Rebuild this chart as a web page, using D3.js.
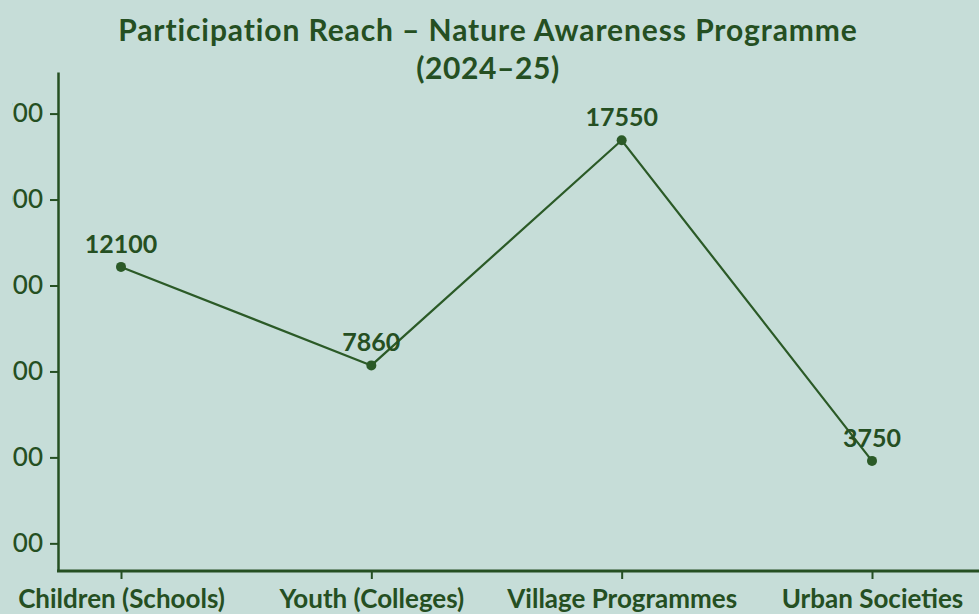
<!DOCTYPE html>
<html>
<head>
<meta charset="utf-8">
<script src="https://d3js.org/d3.v7.min.js"></script>
<style>
  body { margin: 0; background: #c6ddd8; }
  svg { display: block; }
</style>
</head>
<body>
<div id="chart"></div>
<script>
  // data
  var categories = ["Children (Schools)", "Youth (Colleges)", "Village Programmes", "Urban Societies"];
  var participants = [12100, 7860, 17550, 3750];
  var yTickValues = [200, 3900, 7600, 11300, 15000, 18700];

  var data = categories.map(function(c, i) { return {cat: c, value: participants[i]}; });

  var W = 979, H = 614;
  var margin = {top: 72, left: 58, bottom: 43};
  var ink = "#254f22";
  var font = "Lato, 'Open Sans', sans-serif";

  var svg = d3.select("#chart")
    .append("svg")
      .attr("width", W)
      .attr("height", H)
      .style("background", "#c6ddd8");

  // title
  svg.append("text")
    .attr("x", 488).attr("y", 41)
    .attr("text-anchor", "middle")
    .style("font-family", font).style("font-weight", 700)
    .style("font-size", "30px").style("letter-spacing", "0.9px").style("fill", ink)
    .text("Participation Reach – Nature Awareness Programme");
  svg.append("text")
    .attr("x", 488).attr("y", 79)
    .attr("text-anchor", "middle")
    .style("font-family", font).style("font-weight", 700)
    .style("font-size", "30px").style("letter-spacing", "0.6px").style("fill", ink)
    .text("(2024–25)");

  // scales
  var x = d3.scalePoint()
    .domain(categories)
    .range([121, 872]);

  var y = d3.scaleLinear()
    .domain([-990, 20490])
    .range([H - margin.bottom, margin.top]);

  // the tick labels are cut at the left edge, like in the original
  svg.append("clipPath").attr("id", "yclip")
    .append("rect").attr("x", 12 - margin.left).attr("y", 0).attr("width", W).attr("height", H);

  // Y axis
  var yAxis = d3.axisLeft(y)
    .tickValues(yTickValues)
    .tickSize(8)
    .tickSizeOuter(0)
    .tickPadding(7)
    .tickFormat(d3.format("d"));

  var yg = svg.append("g")
    .attr("transform", "translate(" + margin.left + ",0)")
    .attr("clip-path", "url(#yclip)")
    .call(yAxis);
  yg.select(".domain").attr("stroke", ink).attr("stroke-width", 2.5);
  yg.selectAll(".tick line").attr("stroke", ink).attr("stroke-width", 2);
  yg.selectAll(".tick text")
    .style("font-family", font).style("font-size", "26px")
    .style("font-weight", 500).style("fill", ink);

  // X axis
  var xAxis = d3.axisBottom(x)
    .tickSize(8)
    .tickSizeOuter(0)
    .tickPadding(11);

  var xg = svg.append("g")
    .attr("transform", "translate(0," + (H - margin.bottom) + ")")
    .call(xAxis);
  xg.select(".domain").remove();
  xg.append("line")
    .attr("x1", margin.left - 1).attr("x2", W)
    .attr("stroke", ink).attr("stroke-width", 3);
  xg.selectAll(".tick line").attr("stroke", ink).attr("stroke-width", 2);
  xg.selectAll(".tick text")
    .style("font-family", font).style("font-size", "26px")
    .style("font-weight", 700).style("fill", ink);

  // line
  var line = d3.line()
    .x(function(d) { return x(d.cat); })
    .y(function(d) { return y(d.value); });

  svg.append("path")
    .datum(data)
    .attr("d", line)
    .attr("fill", "none")
    .attr("stroke", "#2b5a27")
    .attr("stroke-width", 2.2);

  // markers
  svg.append("g")
    .selectAll("circle")
    .data(data)
    .enter()
    .append("circle")
      .attr("cx", function(d) { return x(d.cat); })
      .attr("cy", function(d) { return y(d.value); })
      .attr("r", 5)
      .attr("fill", "#2b5a27");

  // value labels
  svg.append("g")
    .selectAll("text")
    .data(data)
    .enter()
    .append("text")
      .attr("x", function(d) { return x(d.cat); })
      .attr("y", function(d) { return y(d.value) - 14; })
      .attr("text-anchor", "middle")
      .style("font-family", font).style("font-size", "25px")
      .style("font-weight", 700).style("fill", ink)
      .text(function(d) { return d.value; });
</script>
</body>
</html>
